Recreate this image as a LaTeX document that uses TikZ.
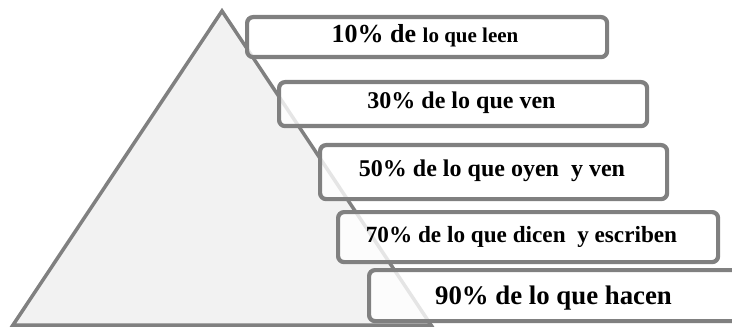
\documentclass[tikz,border=0pt]{standalone}
\usepackage{fontspec}
\setmainfont{Liberation Serif}
\definecolor{edgegray}{RGB}{128,128,128}
\definecolor{trifill}{RGB}{242,242,242}
\begin{document}
\begin{tikzpicture}[x=1pt,y=-1pt,
  tri/.style={draw=edgegray, fill=trifill, line width=3.5pt, line join=miter},
  box/.style={draw=edgegray, line width=4.2pt, rounded corners=6pt, fill=white, fill opacity=0.8, inner sep=0pt, anchor=north west, rectangle},
  lbl/.style={font=\bfseries, anchor=base, text=black, inner sep=0pt}]
\useasboundingbox (0,0) rectangle (732,329);
\draw[tri] (222,11) -- (431,325) -- (13,325) -- cycle;
\node[box, minimum width=360pt, minimum height=40pt] (b1) at (245,15) {};
\node[box, minimum width=368pt, minimum height=44pt] (b2) at (277,80) {};
\node[box, minimum width=347pt, minimum height=54pt] (b3) at (318,143) {};
\node[box, minimum width=380pt, minimum height=50pt] (b4) at (336,210) {};
\node[box, minimum width=380pt, minimum height=51pt] (b5) at (367,268) {};
\node[lbl] (t1) at (425,43) {{\fontsize{26}{30}\selectfont 10\% de\ }{\fontsize{21}{25}\selectfont lo que leen}};
\node[lbl, font=\bfseries\fontsize{24}{28}\selectfont] (t2) at (461.5,109) {30\% de lo que ven};
\node[lbl, font=\bfseries\fontsize{24}{28}\selectfont] (t3) at (492,176) {50\% de lo que oyen~~y ven};
\node[lbl, font=\bfseries\fontsize{23.2}{27}\selectfont] (t4) at (521.5,242) {70\% de lo que dicen~~y escriben};
\node[lbl, font=\bfseries\fontsize{26.8}{31}\selectfont] (t5) at (553.5,304) {90\% de lo que hacen};
\end{tikzpicture}
\end{document}
